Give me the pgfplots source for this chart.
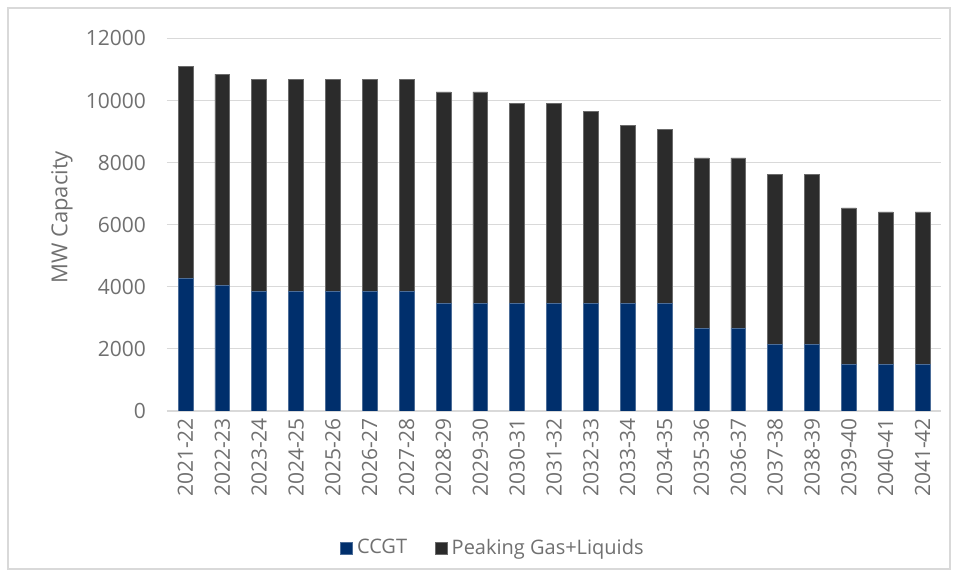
\documentclass[border=0pt]{standalone}
\usepackage{fontspec}
\setmainfont{Open Sans}
\usepackage{pgfplots}
\usepackage{pgfplotstable}
\pgfplotsset{compat=1.18}
\definecolor{ccgt}{RGB}{0,47,108}
\definecolor{peak}{RGB}{43,43,43}
\definecolor{txt}{RGB}{112,112,112}
\definecolor{grd}{RGB}{217,217,217}
\pgfplotstableread{
x ccgt peak
0 4260 6830
1 4050 6800
2 3860 6810
3 3860 6810
4 3860 6810
5 3860 6810
6 3860 6810
7 3460 6815
8 3460 6815
9 3460 6450
10 3460 6450
11 3460 6190
12 3460 5740
13 3460 5610
14 2665 5485
15 2665 5485
16 2135 5475
17 2135 5475
18 1505 5035
19 1505 4905
20 1505 4905
}\datatable
\begin{document}
\begin{tikzpicture}
\useasboundingbox (-83.5pt,-83pt) rectangle (395.5pt,205.5pt);
\draw[grd, line width=0.6pt] (-79.5pt,-79pt) rectangle (391.5pt,201.5pt);
\begin{axis}[
  at={(0,0)}, anchor=south west,
  scale only axis, width=387pt, height=186.3pt,
  ybar stacked, bar width=7.4pt,
  xmin=-0.5, xmax=20.5, ymin=0, ymax=12000,
  ytick={0,2000,...,12000},
  xtick=data,
  xticklabels={2021-22,2022-23,2023-24,2024-25,2025-26,2026-27,2027-28,2028-29,2029-30,2030-31,2031-32,2032-33,2033-34,2034-35,2035-36,2036-37,2037-38,2038-39,2039-40,2040-41,2041-42},
  x tick label style={rotate=90, anchor=east, font=\fontsize{10.5}{12}\selectfont, text=txt},
  y tick label style={font=\fontsize{10.5}{12}\selectfont, text=txt, xshift=-7pt},
  /pgf/number format/assume math mode=true,
  scaled y ticks=false,
  yticklabel={\pgfmathprintnumber[fixed,1000 sep={}]{\tick}},
  major tick length=0pt,
  axis line style={draw=none},
  ymajorgrids, grid style={grd, line width=0.6pt},
  ylabel={MW Capacity},
  ylabel style={at={(axis description cs:-0.1357,0.52)}, anchor=center, rotate=0, font=\fontsize{11}{13}\selectfont, text=txt},
  legend columns=2,
  legend style={at={(0.4225,-0.3677)}, anchor=center, draw=none, font=\fontsize{10}{12}\selectfont, text=txt, /tikz/every even column/.append style={column sep=12pt}},
  legend image code/.code={\fill[#1] (0pt,-3pt) rectangle (6pt,3pt);},
]
\addplot[fill=ccgt, draw=ccgt!70!white, line width=0.3pt] table[x=x,y=ccgt]{\datatable};
\addplot[fill=peak, draw=peak!70!white, line width=0.3pt] table[x=x,y=peak]{\datatable};
\legend{CCGT, Peaking Gas+Liquids}
\end{axis}
\end{tikzpicture}
\end{document}
